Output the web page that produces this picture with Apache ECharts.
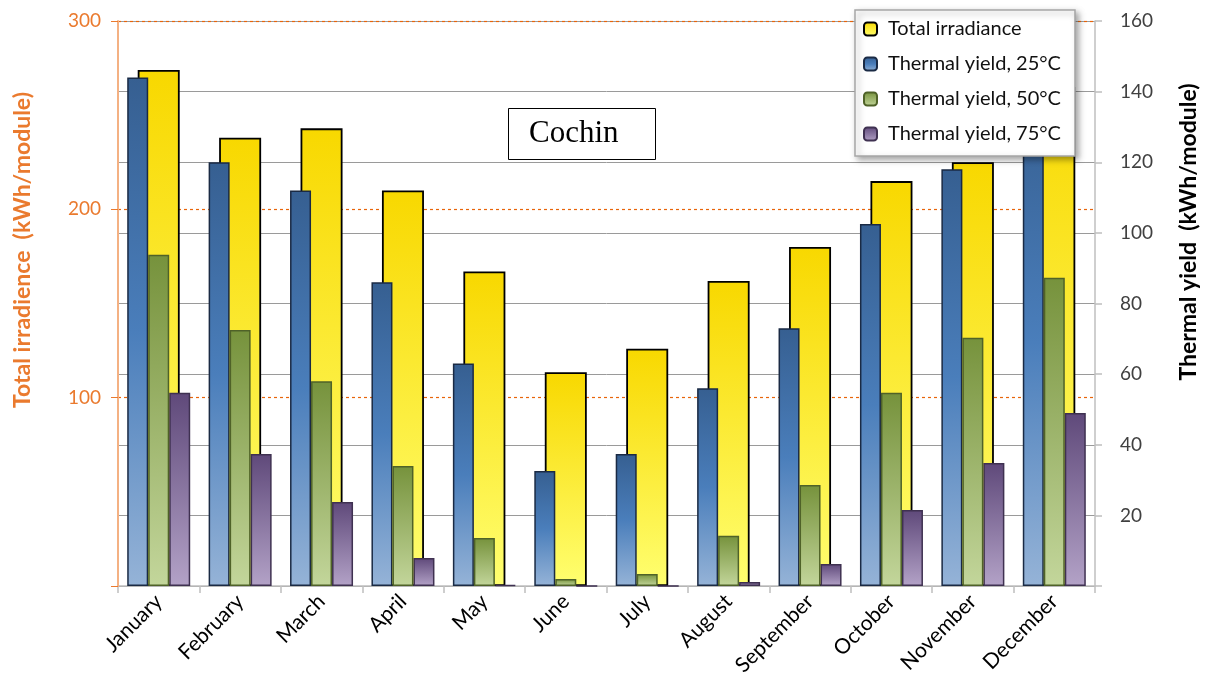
<!DOCTYPE html>
<html>
<head>
<meta charset="utf-8">
<script src="https://cdn.jsdelivr.net/npm/echarts@6/dist/echarts.min.js"></script>
<style>
  html, body { margin: 0; padding: 0; background: #fff; }
  #chart { width: 1210px; height: 695px; }
</style>
</head>
<body>
<div id="chart"></div>
<script>
// Monthly solar resource and collector output, Cochin
const months = ['January', 'February', 'March', 'April', 'May', 'June',
  'July', 'August', 'September', 'October', 'November', 'December'];

// Total irradiance on the module (kWh/module), left axis
const irradiance = [274, 238, 243, 210, 167, 113.5, 126, 162, 180, 215, 225, 265];

// Thermal yield (kWh/module) at three operating temperatures, right axis
const yield25 = [144, 120, 112, 86, 63, 32.6, 37.4, 56, 73, 102.5, 118, 138];
const yield50 = [93.8, 72.5, 58, 34, 13.6, 2, 3.4, 14.2, 28.6, 54.7, 70.3, 87.3];
const yield75 = [54.7, 37.4, 23.8, 7.9, 0.3, 0, 0, 1.1, 6.2, 21.5, 34.8, 49];

const leftTicks = { min: 0, max: 300, interval: 100 };
const rightTicks = { min: 0, max: 160, interval: 20 };

const FONT = 'Lato, "Open Sans", sans-serif';
const ORANGE = '#ea7a2e';

function vGrad(top, bottom) {
  return new echarts.graphic.LinearGradient(0, 0, 0, 1, [
    { offset: 0, color: top },
    { offset: 1, color: bottom }
  ]);
}
function vGrad3(top, mid, bottom) {
  return new echarts.graphic.LinearGradient(0, 0, 0, 1, [
    { offset: 0, color: top },
    { offset: 0.5, color: mid },
    { offset: 1, color: bottom }
  ]);
}

const chart = echarts.init(document.getElementById('chart'), null, { renderer: 'canvas' });

const hideZero = v => (v === 0 ? '' : String(v));

chart.setOption({
  animation: false,
  backgroundColor: '#ffffff',
  grid: { left: 118, right: 115, top: 21, bottom: 109, containLabel: false },
  title: {
    text: 'Cochin',
    left: 508,
    top: 108,
    padding: [10, 37, 10, 21],
    borderColor: '#000000',
    borderWidth: 1,
    backgroundColor: '#ffffff',
    textStyle: { fontFamily: '"Liberation Serif", "DejaVu Serif", serif', fontSize: 31, fontWeight: 'normal', color: '#000', lineHeight: 32 }
  },
  legend: {
    orient: 'vertical',
    left: 855,
    top: 10,
    z: 10,
    itemWidth: 13,
    itemHeight: 13,
    itemGap: 15,
    padding: [9, 14, 12, 8],
    backgroundColor: '#ffffff',
    borderColor: '#a6a6a6',
    borderWidth: 1.5,
    shadowBlur: 6,
    shadowColor: 'rgba(0,0,0,0.35)',
    shadowOffsetX: 3,
    shadowOffsetY: 3,
    textStyle: { fontFamily: FONT, fontSize: 20, color: '#111', lineHeight: 20, padding: [0, 0, 0, 6] },
    data: ['Total irradiance', 'Thermal yield, 25°C', 'Thermal yield, 50°C', 'Thermal yield, 75°C']
  },
  xAxis: [
    {
      type: 'category',
      data: months,
      axisLine: { show: true, lineStyle: { color: '#bfbfbf', width: 1.5 } },
      axisTick: { show: true, length: 7, lineStyle: { color: '#bfbfbf', width: 1.5 } },
      axisLabel: { rotate: 45, margin: 12, fontFamily: FONT, fontSize: 21, color: '#000' },
      splitLine: { show: false }
    },
    {
      type: 'category',
      data: months,
      show: false
    }
  ],
  yAxis: [
    {
      type: 'value',
      position: 'left',
      z: 1,
      min: leftTicks.min, max: leftTicks.max, interval: leftTicks.interval,
      axisLine: { show: true, lineStyle: { color: '#f4b183', width: 2 } },
      axisTick: { show: true, inside: false, length: 7, lineStyle: { color: ORANGE, width: 1 } },
      axisLabel: { margin: 17, fontFamily: FONT, fontSize: 19, color: ORANGE, formatter: hideZero },
      splitLine: { show: true, showMinLine: false, lineStyle: { color: '#e8650a', type: [3, 3], width: 1.2, opacity: 1 } }
    },
    {
      type: 'value',
      position: 'right',
      z: 0,
      min: rightTicks.min, max: rightTicks.max, interval: rightTicks.interval,
      axisLine: { show: true, lineStyle: { color: '#bfbfbf', width: 1.5 } },
      axisTick: { show: true, inside: false, length: 7, lineStyle: { color: '#bfbfbf', width: 1.5 } },
      axisLabel: { margin: 25, fontFamily: FONT, fontSize: 19, color: '#404040', formatter: hideZero },
      splitLine: { show: true, lineStyle: { color: '#9a9a9a', width: 1 } }
    }
  ],
  graphic: [
    {
      type: 'text',
      x: 23, y: 250,
      rotation: Math.PI / 2,
      style: {
        text: 'Total irradience  (kWh/module)',
        fill: ORANGE,
        font: 'bold 23px ' + FONT,
        align: 'center',
        verticalAlign: 'middle'
      }
    },
    {
      type: 'text',
      x: 1189, y: 232,
      rotation: Math.PI / 2,
      style: {
        text: 'Thermal yield  (kWh/module)',
        fill: '#000000',
        font: 'bold 23px ' + FONT,
        align: 'center',
        verticalAlign: 'middle'
      }
    }
  ],
  series: [
    {
      name: 'Total irradiance',
      type: 'bar',
      xAxisIndex: 1,
      yAxisIndex: 0,
      data: irradiance,
      barWidth: 42,
      z: 2,
      itemStyle: { color: vGrad('#f8d800', '#ffff70'), borderColor: '#000000', borderWidth: 1.8 }
    },
    {
      name: 'Thermal yield, 25°C',
      type: 'bar',
      xAxisIndex: 0,
      yAxisIndex: 1,
      data: yield25,
      barWidth: 21,
      barGap: '0%',
      z: 3,
      itemStyle: { color: vGrad3('#365f91', '#4a7ebb', '#95b3d7'), borderColor: '#1a2a44', borderWidth: 1.5 }
    },
    {
      name: 'Thermal yield, 50°C',
      type: 'bar',
      xAxisIndex: 0,
      yAxisIndex: 1,
      data: yield50,
      barWidth: 21,
      barGap: '0%',
      z: 3,
      itemStyle: { color: vGrad('#76923c', '#c3d69b'), borderColor: '#4f6228', borderWidth: 1.5 }
    },
    {
      name: 'Thermal yield, 75°C',
      type: 'bar',
      xAxisIndex: 0,
      yAxisIndex: 1,
      data: yield75,
      barWidth: 21,
      barGap: '0%',
      z: 3,
      itemStyle: { color: vGrad('#5f497a', '#b3a2c7'), borderColor: '#3f3151', borderWidth: 1.5 }
    }
  ]
});
</script>
</body>
</html>
